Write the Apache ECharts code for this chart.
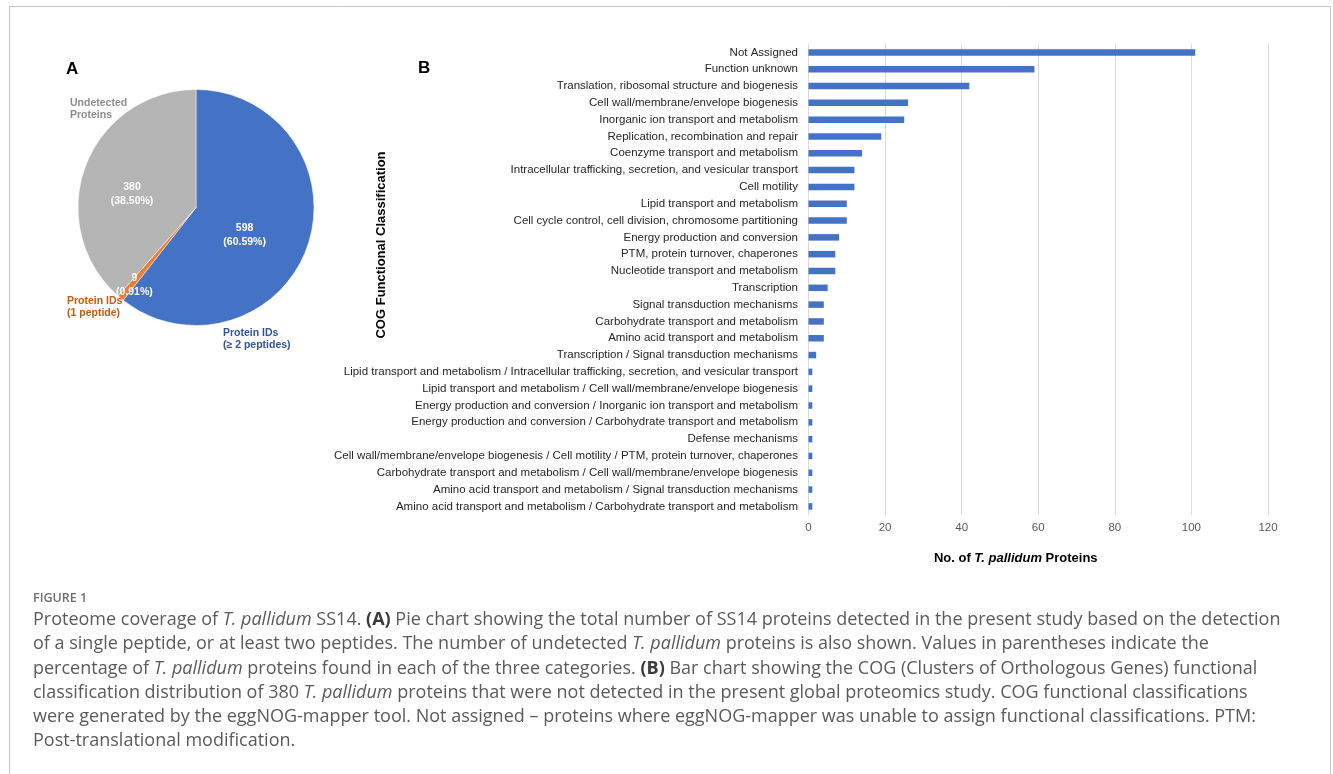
<!DOCTYPE html>
<html>
<head>
<meta charset="utf-8">
<script src="https://cdn.jsdelivr.net/npm/echarts@6/dist/echarts.min.js"></script>
<style>
  html, body { margin: 0; padding: 0; background: #ffffff; }
  #chart { width: 1333px; height: 774px; }
</style>
</head>
<body>
<div id="chart"></div>
<script>
// Panel A: proteome coverage
const pieNames = ['Protein IDs\n(≥ 2 peptides)', 'Protein IDs\n(1 peptide)', 'Undetected\nProteins'];
const pieValues = [598, 9, 380];

// Panel B: COG functional classes of the undetected proteins
const cogCategories = [
  'Not Assigned',
  'Function unknown',
  'Translation, ribosomal structure and biogenesis',
  'Cell wall/membrane/envelope biogenesis',
  'Inorganic ion transport and metabolism',
  'Replication, recombination and repair',
  'Coenzyme transport and metabolism',
  'Intracellular trafficking, secretion, and vesicular transport',
  'Cell motility',
  'Lipid transport and metabolism',
  'Cell cycle control, cell division, chromosome partitioning',
  'Energy production and conversion',
  'PTM, protein turnover, chaperones',
  'Nucleotide transport and metabolism',
  'Transcription',
  'Signal transduction mechanisms',
  'Carbohydrate transport and metabolism',
  'Amino acid transport and metabolism',
  'Transcription / Signal transduction mechanisms',
  'Lipid transport and metabolism / Intracellular trafficking, secretion, and vesicular transport',
  'Lipid transport and metabolism / Cell wall/membrane/envelope biogenesis',
  'Energy production and conversion / Inorganic ion transport and metabolism',
  'Energy production and conversion / Carbohydrate transport and metabolism',
  'Defense mechanisms',
  'Cell wall/membrane/envelope biogenesis / Cell motility / PTM, protein turnover, chaperones',
  'Carbohydrate transport and metabolism / Cell wall/membrane/envelope biogenesis',
  'Amino acid transport and metabolism / Signal transduction mechanisms',
  'Amino acid transport and metabolism / Carbohydrate transport and metabolism'
];
const cogCounts = [101, 59, 42, 26, 25, 19, 14, 12, 12, 10, 10, 8, 7, 7, 5, 4, 4, 4, 2, 1, 1, 1, 1, 1, 1, 1, 1, 1];
const xTicks = [0, 20, 40, 60, 80, 100, 120];

const SANS = '"Liberation Sans", Arial, sans-serif';
const CAPTION_FONT = '"Open Sans", Lato, sans-serif';
const CAPTION_SIZE = 18;

const sliceColors = ['#4472C4', '#ED7D31', '#B4B4B4'];
const nameColors = ['#2F5597', '#C55A11', '#8C8C8C'];

const pieTotal = pieValues.reduce((a, b) => a + b, 0);
const pieData = pieNames.map((n, i) => ({
  name: n,
  value: pieValues[i],
  itemStyle: { color: sliceColors[i] }
}));

// nudges for the value labels inside the slices
const innerShift = [[-10, 7], [-22, 30], [-6, 9]];
// anchor points for the category name labels around the pie
const namePos = [[223, 339, 'left'], [67, 307, 'left'], [70, 109, 'left']];

const captionLines = [
  'Proteome coverage of {i|T. pallidum} SS14. {b|(A)} Pie chart showing the total number of SS14 proteins detected in the present study based on the detection',
  'of a single peptide, or at least two peptides. The number of undetected {i|T. pallidum} proteins is also shown. Values in parentheses indicate the',
  'percentage of {i|T. pallidum} proteins found in each of the three categories. {b|(B)} Bar chart showing the COG (Clusters of Orthologous Genes) functional',
  'classification distribution of 380 {i|T. pallidum} proteins that were not detected in the present global proteomics study. COG functional classifications',
  'were generated by the eggNOG-mapper tool. Not assigned \u2013 proteins where eggNOG-mapper was unable to assign functional classifications. PTM:',
  'Post-translational modification.'
];
const captionRich = {
  i: { fontFamily: CAPTION_FONT, fontSize: CAPTION_SIZE, fontStyle: 'italic', fill: '#5a5a5a', color: '#5a5a5a' },
  b: { fontFamily: CAPTION_FONT, fontSize: CAPTION_SIZE, fontWeight: 'bold', fill: '#3a3a3a', color: '#3a3a3a' }
};

const graphics = [
  // figure frame
  {
    type: 'polyline', silent: true,
    shape: { points: [[9.5, 780], [9.5, 6.5], [1330.5, 6.5], [1330.5, 780]] },
    style: { stroke: '#c4c4c4', lineWidth: 1, fill: null }
  },
  { type: 'text', left: 66, top: 61, style: { text: 'A', font: 'bold 17px ' + SANS, fill: '#000' } },
  { type: 'text', left: 418, top: 60, style: { text: 'B', font: 'bold 17px ' + SANS, fill: '#000' } },
  {
    type: 'text', x: 381, y: 245, rotation: Math.PI / 2,
    style: { text: 'COG Functional Classification', font: 'bold 13px ' + SANS, fill: '#000', align: 'center', verticalAlign: 'middle' }
  },
  { type: 'text', x: 33, y: 598, style: { text: 'FIGURE 1', font: '600 12.5px ' + CAPTION_FONT, fill: '#6e6e6e', verticalAlign: 'middle' } }
];
captionLines.forEach((line, k) => {
  graphics.push({
    type: 'text', x: 33, y: 620 + k * 24.2,
    style: {
      text: line, fontFamily: CAPTION_FONT, fontSize: CAPTION_SIZE, fill: '#5a5a5a',
      verticalAlign: 'middle', rich: captionRich
    }
  });
});

const option = {
  animation: false,
  backgroundColor: '#ffffff',
  textStyle: { fontFamily: SANS },
  graphic: graphics,
  grid: { left: 808.5, top: 44, width: 459.5, height: 470.8, containLabel: false },
  xAxis: {
    type: 'value', min: 0, max: 120, interval: 20,
    axisLine: { show: false }, axisTick: { show: false },
    splitLine: { show: true, lineStyle: { color: '#d9d9d9', width: 1 } },
    axisLabel: {
      fontSize: 11.5, color: '#595959', margin: 7, fontFamily: SANS,
      formatter: v => (xTicks.indexOf(v) >= 0 ? String(v) : '')
    },
    name: '{b|No. of }{i|T. pallidum}{b| Proteins}',
    nameLocation: 'middle', nameGap: 37,
    nameTextStyle: {
      padding: [0, 45, 0, 0],
      rich: {
        b: { fontSize: 13, fontWeight: 'bold', color: '#000', fontFamily: SANS },
        i: { fontSize: 13, fontWeight: 'bold', fontStyle: 'italic', color: '#000', fontFamily: SANS }
      }
    }
  },
  yAxis: {
    type: 'category', inverse: true, data: cogCategories,
    axisLine: { show: false }, axisTick: { show: false },
    axisLabel: { fontSize: 11.5, color: '#262626', margin: 10.5, fontFamily: SANS }
  },
  series: [
    {
      type: 'bar', data: cogCounts, barWidth: 6.5,
      itemStyle: { color: '#4472C4' }, silent: true
    },
    {
      type: 'pie', center: [196, 207.5], radius: 118,
      startAngle: 90, clockwise: true, avoidLabelOverlap: false, silent: true,
      data: pieData,
      itemStyle: { borderColor: '#ffffff', borderWidth: 0.5 },
      label: {
        position: 'inside', color: '#ffffff', fontSize: 10.5, fontWeight: 'bold',
        lineHeight: 14, fontFamily: SANS,
        formatter: p => p.value + '\n(' + (p.value / pieTotal * 100).toFixed(2) + '%)'
      },
      labelLine: { show: false },
      labelLayout: p => ({ dx: innerShift[p.dataIndex][0], dy: innerShift[p.dataIndex][1] })
    },
    {
      // category names placed around the pie
      type: 'pie', center: [196, 207.5], radius: 118,
      startAngle: 90, clockwise: true, avoidLabelOverlap: false, silent: true,
      data: pieData.map((d, i) => ({
        name: d.name, value: d.value,
        itemStyle: { color: 'rgba(0,0,0,0)' },
        label: { color: nameColors[i] }
      })),
      label: {
        position: 'outside', fontSize: 10.5, fontWeight: 'bold', lineHeight: 12.5,
        fontFamily: SANS, formatter: p => p.name
      },
      labelLine: { show: false },
      labelLayout: p => ({
        x: namePos[p.dataIndex][0], y: namePos[p.dataIndex][1],
        align: namePos[p.dataIndex][2], verticalAlign: 'middle'
      })
    }
  ]
};

const chart = echarts.init(document.getElementById('chart'), null, { renderer: 'canvas' });
chart.setOption(option);
</script>
</body>
</html>
